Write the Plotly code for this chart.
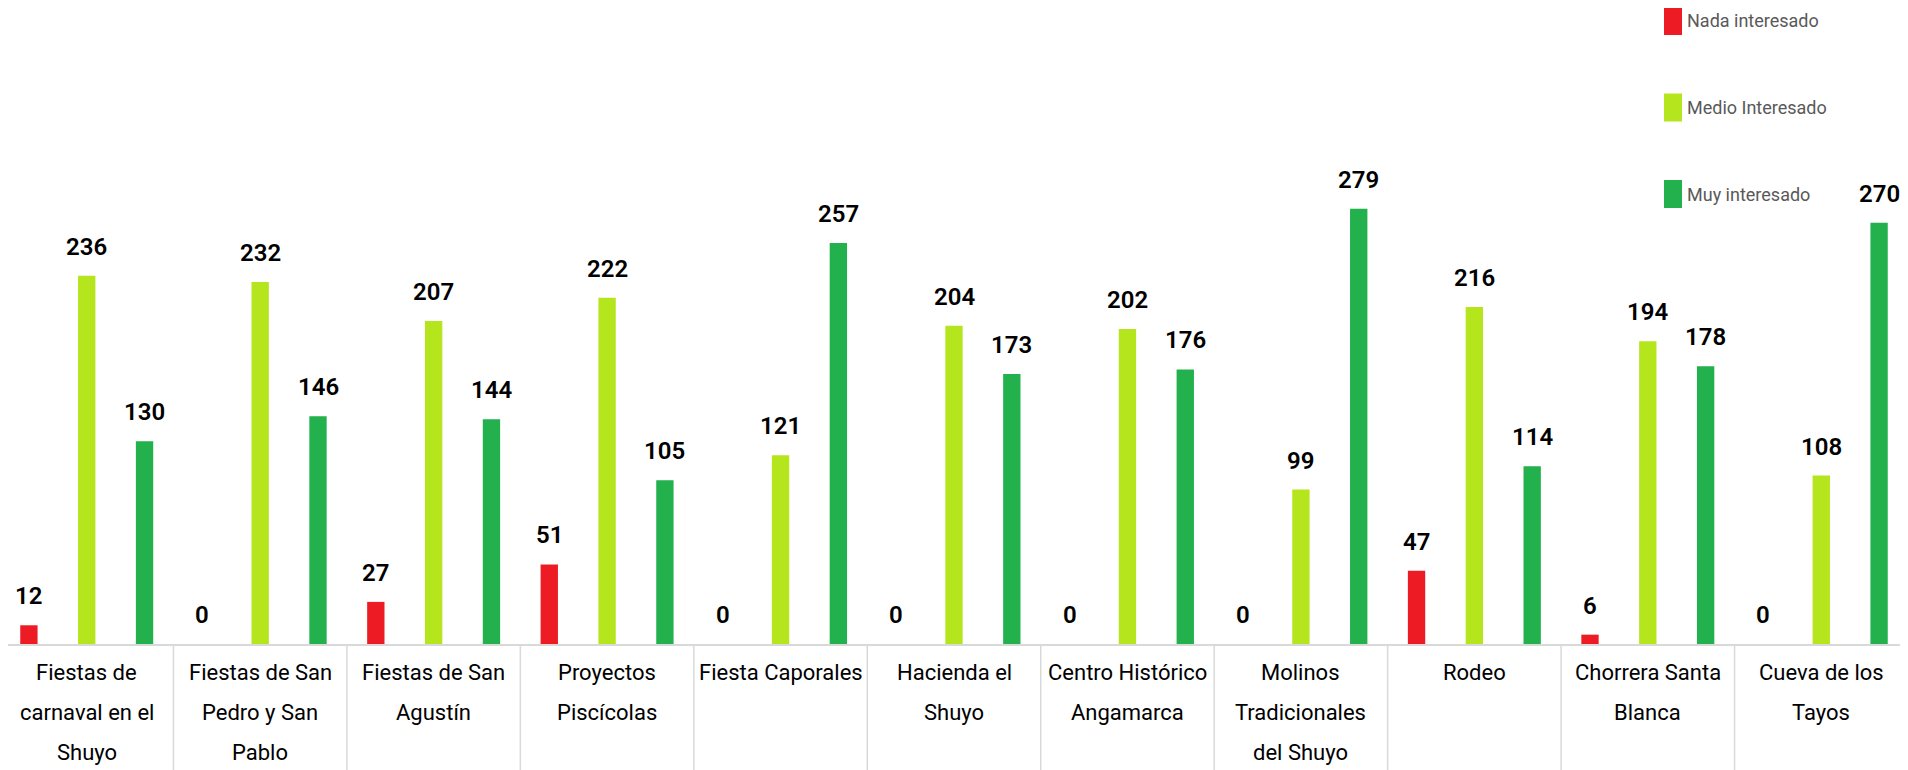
import plotly.graph_objects as go

# ---- data ----
categories = [
    "Fiestas de carnaval en el Shuyo",
    "Fiestas de San Pedro y San Pablo",
    "Fiestas de San Agustín",
    "Proyectos Piscícolas",
    "Fiesta Caporales",
    "Hacienda el Shuyo",
    "Centro Histórico Angamarca",
    "Molinos Tradicionales del Shuyo",
    "Rodeo",
    "Chorrera Santa Blanca",
    "Cueva de los Tayos",
]
label_lines = [
    ["Fiestas de", "carnaval en el", "Shuyo"],
    ["Fiestas de San", "Pedro y San", "Pablo"],
    ["Fiestas de San", "Agustín"],
    ["Proyectos", "Piscícolas"],
    ["Fiesta Caporales"],
    ["Hacienda el", "Shuyo"],
    ["Centro Histórico", "Angamarca"],
    ["Molinos", "Tradicionales", "del Shuyo"],
    ["Rodeo"],
    ["Chorrera Santa", "Blanca"],
    ["Cueva de los", "Tayos"],
]
nada = [12, 0, 27, 51, 0, 0, 0, 0, 47, 6, 0]
medio = [236, 232, 207, 222, 121, 204, 202, 99, 216, 194, 108]
muy = [130, 146, 144, 105, 257, 173, 176, 279, 114, 178, 270]
series_names = ["Nada interesado", "Medio Interesado", "Muy interesado"]

# ---- style ----
colors = ["#ED1C24", "#B5E61D", "#22B14C"]
offsets = [-1 / 3, 0, 1 / 3]
FONT = "Roboto, Liberation Sans, sans-serif"
PAGE_W, PAGE_H = 1908, 770
BODY = 8                      # default page margin around the figure
W, H = PAGE_W - BODY, PAGE_H - BODY
BASE = 644 - BODY             # baseline in figure pixels
M_T = 12
M_B = H - BASE
PLOT_H = BASE - M_T
n = len(categories)
CW = PAGE_W / n               # category width in page pixels

fig = go.Figure()
annotations = []
shapes = []

for values, name, color, off in zip([nada, medio, muy], series_names, colors, offsets):
    xs = [i + off for i in range(n)]
    fig.add_trace(go.Bar(
        x=xs, y=values, width=0.1, name=name,
        marker=dict(color=color, line=dict(width=0)),
        showlegend=False,
        hovertext=categories, hoverinfo="text+y",
    ))
    for x, v in zip(xs, values):
        annotations.append(dict(
            x=x, y=v, xref="x", yref="y", text=str(v), showarrow=False,
            yanchor="middle", xanchor="center", yshift=29,
            font=dict(family=FONT, size=24, color="#000000", weight=600),
        ))

# category labels (manual line spacing)
for i, lines in enumerate(label_lines):
    for j, line in enumerate(lines):
        annotations.append(dict(
            x=i, y=0, xref="x", yref="y", text=line, showarrow=False,
            yanchor="middle", xanchor="center", yshift=-(28 + 40 * j),
            font=dict(family=FONT, size=22, color="#000000"),
        ))

# category dividers
for i in range(n - 1):
    shapes.append(dict(
        type="line", xref="x", yref="paper", x0=i + 0.5, x1=i + 0.5,
        y0=0, y1=-M_B / PLOT_H, line=dict(color="#D9D9D9", width=1.5),
    ))

# custom legend (page pixel layout)
def px_x(px):
    return (px - BODY) / W

def px_y(py):
    return (BASE - (py - BODY)) / PLOT_H

for k, (name, color) in enumerate(zip(series_names, colors)):
    top = 7 + 86.5 * k
    shapes.append(dict(
        type="rect", xref="paper", yref="paper",
        x0=px_x(1664), x1=px_x(1682), y0=px_y(top + 28), y1=px_y(top),
        fillcolor=color, line=dict(width=0),
    ))
    annotations.append(dict(
        x=px_x(1685), y=px_y(top + 14), xref="paper", yref="paper", text=name,
        showarrow=False, xanchor="left", yanchor="middle",
        font=dict(family=FONT, size=18, color="#595959"),
    ))

fig.update_layout(
    width=W, height=H,
    margin=dict(l=0, r=0, t=M_T, b=M_B, pad=0),
    paper_bgcolor="white", plot_bgcolor="white",
    barmode="overlay",
    xaxis=dict(range=[-0.5 + BODY / CW, -0.5 + PAGE_W / CW], showgrid=False,
               zeroline=False, showticklabels=False, ticks="", showline=True,
               linecolor="#D9D9D9", linewidth=2, fixedrange=True),
    yaxis=dict(range=[0, 400], visible=False, fixedrange=True),
    annotations=annotations,
    shapes=shapes,
)

fig.write_html("out.html")
